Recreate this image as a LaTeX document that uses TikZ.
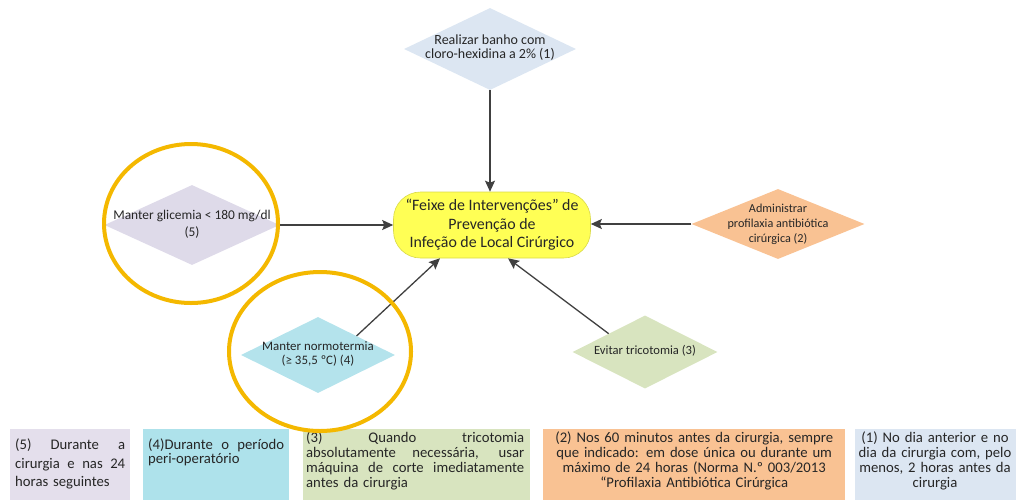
\documentclass[tikz,border=0pt]{standalone}
\usepackage{fontspec}
\setmainfont{Carlito}
\usetikzlibrary{shapes.geometric,arrows.meta,calc}
\definecolor{cblue}{HTML}{DCE6F2}
\definecolor{clav}{HTML}{DEDAE9}
\definecolor{clavbox}{HTML}{E4DFEC}
\definecolor{cpeach}{HTML}{F9C293}
\definecolor{ccyan}{HTML}{B4E3EC}
\definecolor{ccyanbox}{HTML}{AEE2EB}
\definecolor{colive}{HTML}{D8E4BF}
\definecolor{cyel}{HTML}{FFFF55}
\definecolor{cring}{HTML}{F4B800}
\definecolor{carrow}{HTML}{404040}
\definecolor{ctext}{HTML}{262626}
\newcommand\dtext[1]{\makebox[0pt]{\begin{tabular}{@{}c@{}}#1\end{tabular}}}
\newcommand\spread[2]{{\spaceskip=0pt\xspaceskip=0pt\makebox[#1][s]{#2}}}
\begin{document}
\begin{tikzpicture}[x=1pt,y=-1pt,
  dia/.style={diamond, draw=none, inner sep=0pt, text=ctext},
  conn/.style={draw=carrow, line width=1.3pt,
    -{Stealth[length=11pt,width=10pt,inset=2pt]}},
  ring/.style={draw=cring, line width=4pt},
  bbox/.style={rectangle, draw=none, inner sep=0pt, anchor=north west},
  btext/.style={inner sep=0pt, anchor=north west, text=ctext,
    font=\fontsize{14.7}{15}\selectfont}
]
\useasboundingbox (0,0) rectangle (1016,499);
\clip (0,0) rectangle (1016,499);

% diamonds
\node[dia, fill=cblue, minimum width=172pt, minimum height=82pt,
  font=\fontsize{14}{13.5}\selectfont] (top) at (490,49)
  {\dtext{Realizar banho com\\cloro-hexidina a 2\% (1)}};
\node[dia, fill=clav, minimum width=175pt, minimum height=80pt,
  font=\fontsize{13.4}{17}\selectfont] (gli) at (192,225)
  {\dtext{Manter glicemia < 180 mg/dl\\(5)}};
\node[dia, fill=cpeach, minimum width=173pt, minimum height=70pt,
  font=\fontsize{12.2}{15}\selectfont] (ant) at (778,224)
  {\dtext{Administrar\\profilaxia antibiótica\\cirúrgica (2)}};
\node[dia, fill=ccyan, minimum width=154pt, minimum height=76pt,
  font=\fontsize{12.9}{13.5}\selectfont] (nor) at (318,355)
  {\dtext{Manter normotermia\\(≥ 35,5 ºC) (4)}};
\node[dia, fill=colive, minimum width=145pt, minimum height=73pt,
  font=\fontsize{12.6}{14}\selectfont] (tri) at (645,352)
  {\dtext{Evitar tricotomia (3)}};

% centre
\node[fill=cyel, draw=cyel!85!black, line width=0.6pt, rounded corners=27pt,
  minimum width=197pt, minimum height=66pt, align=center, text=ctext,
  font=\fontsize{15.9}{18.5}\selectfont] (c) at (492,225)
  {“Feixe de Intervenções” de\\Prevenção de\\Infeção de Local Cirúrgico};

\coordinate (cbl) at ($(c.south)+(-52,0)$);
\coordinate (cbr) at ($(c.south)+(16,0)$);

% connectors
\draw[conn] (top.south) -- (top.south |- c.north);
\draw[conn] (gli.east) -- (c.west |- gli.east);
\draw[conn] (ant.west) -- (c.east |- ant.west);
\draw[conn] (nor.north east) -- (cbl);
\draw[conn] (tri.north west) -- (cbr);

% bottom boxes
\node[bbox, fill=clavbox, minimum width=120pt, minimum height=80pt] (b5) at (10,429) {};
\node[bbox, fill=ccyanbox, minimum width=146pt, minimum height=80pt] (b4) at (143,429) {};
\node[bbox, fill=colive, minimum width=227pt, minimum height=80pt] (b3) at (303,429) {};
\node[bbox, fill=cpeach, minimum width=302pt, minimum height=80pt] (b2) at (543,429) {};
\node[bbox, fill=cblue, minimum width=170pt, minimum height=80pt] (b1) at (855,429) {};

\node[btext, text width=110pt, align=left, font=\fontsize{14.7}{18.5}\selectfont]
  (t5) at ($(b5.north west)+(5,10)$)
  {\spread{110pt}{(5) Durante a}\\\spread{110pt}{cirurgia e nas 24}\\horas seguintes};
\node[btext, text width=136pt, align=left, font=\fontsize{14.7}{9.5}\selectfont]
  (t4) at ($(b4.north west)+(5,10)$)
  {\spread{136pt}{(4)Durante o período}\\peri-operatório};
\node[btext, text width=218pt, align=left]
  (t3) at ($(b3.north west)+(3,3)$)
  {\spread{218pt}{(3) Quando tricotomia}\\\spread{218pt}{absolutamente necessária, usar}\\\spread{218pt}{máquina de corte imediatamente}\\antes da cirurgia};
\node[btext, anchor=north, text width=300pt, align=center]
  (t2) at ($(b2.north)+(0,3)$)
  {(2) Nos 60 minutos antes da cirurgia, sempre\\que indicado: em dose única ou durante um\\máximo de 24 horas (Norma N.º 003/2013\\“Profilaxia Antibiótica Cirúrgica};
\node[btext, anchor=north, text width=165pt, align=center]
  (t1) at ($(b1.north west)+(80,3)$)
  {(1) No dia anterior e no\\dia da cirurgia com, pelo\\menos, 2 horas antes da\\cirurgia};

% highlight rings
\draw[ring] (191,223.5) ellipse [x radius=87, y radius=79.5];
\draw[ring] (320,351.5) ellipse [x radius=91, y radius=79.5];
\end{tikzpicture}
\end{document}
